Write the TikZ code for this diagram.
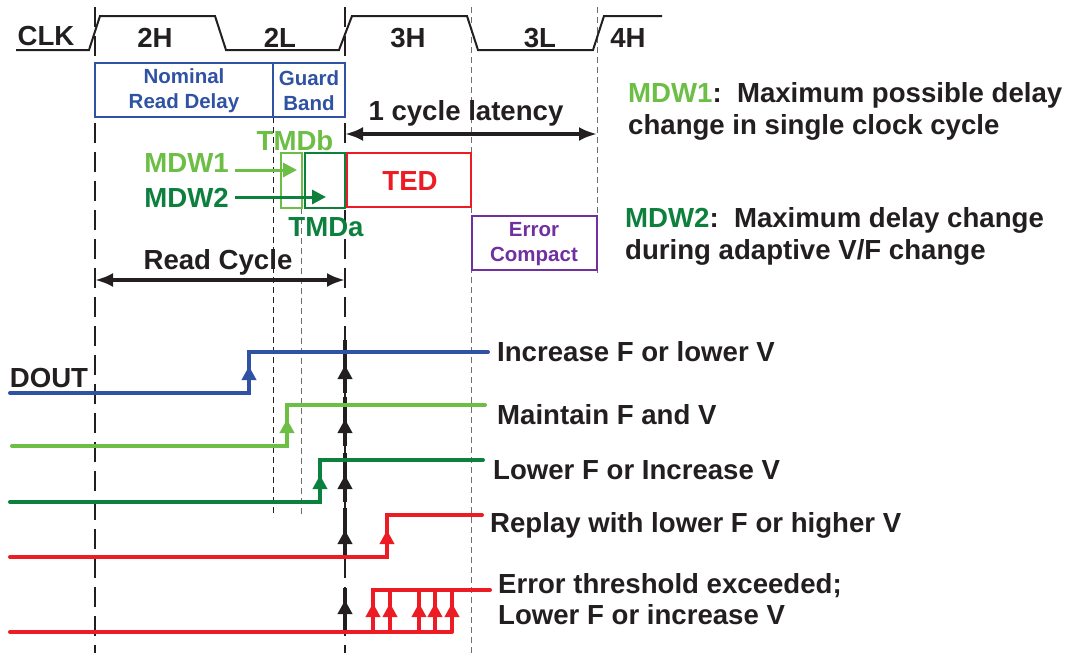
\documentclass[tikz,border=0pt]{standalone}
\usepackage{fontspec}
\setmainfont{Liberation Sans}
\usetikzlibrary{arrows.meta,positioning}
\definecolor{inkblack}{RGB}{35,31,32}
\definecolor{nomblue}{RGB}{47,82,162}
\definecolor{mdwlight}{RGB}{108,190,69}
\definecolor{mdwdark}{RGB}{13,128,62}
\definecolor{tedred}{RGB}{237,28,36}
\definecolor{errpurple}{RGB}{112,48,160}
\definecolor{gridgray}{RGB}{110,110,110}

\begin{document}
\begin{tikzpicture}[
    x=1pt, y=-1pt,
    big/.style={font=\fontsize{27.6}{31}\selectfont\bfseries, text=inkblack, inner sep=0pt},
    small/.style={font=\fontsize{20.5}{25}\selectfont\bfseries, inner sep=0pt, align=center},
    wave/.style={line width=2pt, inkblack},
    sig/.style={line width=4pt, line cap=round},
    tip/.style={-{Triangle[length=14pt,width=14pt]}, line width=4pt},
    bigdash/.style={inkblack, line width=2pt, dash pattern=on 20pt off 9pt},
    thindash/.style={line width=1pt, dash pattern=on 6pt off 4pt},
    span/.style={{Latex[length=18pt,width=14pt]}-{Latex[length=18pt,width=14pt]}, line width=3.5pt, inkblack},
    winbox/.style={draw, line width=2pt}
]
\useasboundingbox (0,0) rectangle (1072,653);

\draw[bigdash] (95,7) -- (95,653);
\draw[bigdash, line width=2.6pt] (345,7) -- (345,653);
\draw[thindash, gridgray] (471,7) -- (471,653);
\draw[thindash, gridgray] (597,7) -- (597,273);
\draw[thindash, inkblack] (273,117) -- (273,517);
\draw[thindash, gridgray] (301,208) -- (301,515);

\draw[wave] (16,50) -- (89,50) -- (100,16) -- (215,16) -- (226,50) -- (339,50)
  -- (352,16) -- (467,16) -- (478,50) -- (593,50) -- (604,16) -- (662,16);
\node[big] (clk) at (46,36) {CLK};
\node[big] (h2) at (155,38) {2H};
\node[big] (l2) at (280,38) {2L};
\node[big] (h3) at (408,38) {3H};
\node[big] (l3) at (540,38) {3L};
\node[big] (h4) at (628,38) {4H};

\draw[winbox, nomblue] (95,63) rectangle (273,117);
\draw[winbox, nomblue] (273,63) rectangle (345,117);
\node[small, text=nomblue] (nominal) at (184,91) {Nominal\\Read Delay};
\node[small, text=nomblue] (guard) at (309,91) {Guard\\Band};

\node[big] (latency) at (466,113) {1 cycle latency};
\coordinate (latl) at (345,134);
\coordinate (latr) at (597,134);
\draw[span] (latl) -- (latr);

\draw[winbox, mdwlight] (281,153) rectangle (302,208);
\draw[winbox, mdwdark] (305,153) rectangle (345,208);
\draw[winbox, tedred, line width=2.5pt] (347,153) rectangle (471,207);
\node[big, text=mdwlight] (tmdb) at (295,141) {TMDb};
\node[big, text=mdwdark] (tmda) at (326,227) {TMDa};
\node[big, text=tedred] (ted) at (410,181) {TED};

\node[big, text=mdwlight, anchor=east] (mdwa) at (229,163) {MDW1};
\node[big, text=mdwdark, anchor=east] (mdwb) at (229,198) {MDW2};
\coordinate (mdwaend) at (297,170);
\coordinate (mdwbend) at (326,197);
\draw[tip, mdwlight, line width=3pt] (mdwa.east |- mdwaend) ++(6,0) -- (mdwaend);
\draw[tip, mdwdark, line width=3pt] (mdwb.east |- mdwbend) ++(6,0) -- (mdwbend);

\draw[winbox, errpurple] (472,216) rectangle (597,270);
\node[small, text=errpurple] (errc) at (534,244) {Error\\Compact};

\node[big] (readc) at (218,262) {Read Cycle};
\coordinate (rcl) at (95,280);
\coordinate (rcr) at (345,280);
\draw[span] (rcl) -- (rcr);

\node[big, anchor=west] (def1) at (628,95) {\textcolor{mdwlight}{MDW1}:\ \ Maximum possible delay};
\node[big, anchor=west] (def1b) at (628,127) {change in single clock cycle};
\node[big, anchor=west] (def2) at (625,220) {\textcolor{mdwdark}{MDW2}:\ \ Maximum delay change};
\node[big, anchor=west] (def2b) at (625,252) {during adaptive V/F change};

\foreach \lo/\hi/\mid in {393/340/365, 446/397/419, 502/453/475, 557/508/530, 632/588/600} {
  \draw[line width=4pt, inkblack] (345,\lo) -- (345,\hi);
  \draw[tip, inkblack] (345,\lo) -- (345,\mid);
}

\draw[sig, nomblue] (10,393) -- (249,393) -- (249,352) -- (488,352);
\draw[tip, nomblue] (249,393) -- (249,366);
\node[big] (dout) at (49,378) {DOUT};
\node[big, anchor=west] (res1) at (497,352) {Increase F or lower V};

\draw[sig, mdwlight] (12,446) -- (287,446) -- (287,405) -- (485,405);
\draw[tip, mdwlight] (287,446) -- (287,419);
\node[big, anchor=west] (res2) at (497,415) {Maintain F and V};

\draw[sig, mdwdark] (10,502) -- (320,502) -- (320,460) -- (483,460);
\draw[tip, mdwdark] (320,502) -- (320,475);
\node[big, anchor=west] (res3) at (493,470) {Lower F or Increase V};

\draw[sig, tedred] (10,557) -- (387,557) -- (387,515) -- (482,515);
\draw[tip, tedred] (387,557) -- (387,530);
\node[big, anchor=west] (res4) at (490,525) {Replay with lower F or higher V};

\draw[sig, tedred] (10,632) -- (452,632);
\draw[sig, tedred] (373,632) -- (373,590) -- (490,590);
\foreach \xe in {373,390,419,435,452} {
  \draw[line width=4pt, tedred] (\xe,632) -- (\xe,590);
  \draw[tip, tedred] (\xe,632) -- (\xe,603);
}
\node[big, anchor=west, align=left] (res5) at (498,599) {Error threshold exceeded;\\Lower F or increase V};
\end{tikzpicture}
\end{document}
